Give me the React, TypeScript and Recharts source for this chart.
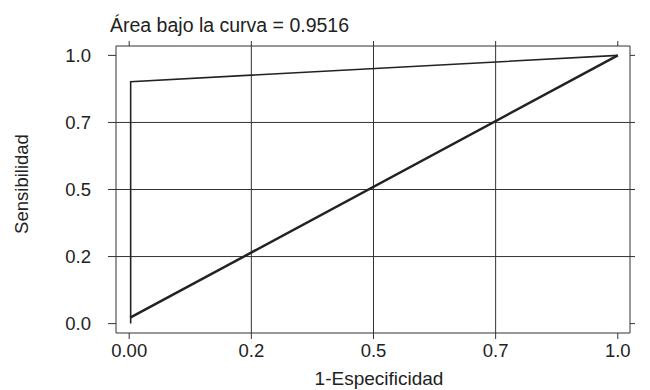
import { LineChart, Line, XAxis, YAxis, ReferenceLine } from "recharts";

// ROC curve points (1 - specificity, sensitivity)
const rocFpr = [0.003, 0.003, 1];
const rocTpr = [0, 0.902, 1];

// reference diagonal
const diagFpr = [0.002, 1];
const diagTpr = [0.022, 1];

const tickValues = [0, 0.25, 0.5, 0.75, 1];
const xTickLabels = ["0.00", "0.2", "0.5", "0.7", "1.0"];
const yTickLabels = ["0.0", "0.2", "0.5", "0.7", "1.0"];
const gridValues = [0.25, 0.5, 0.75];

const title = "Área bajo la curva = 0.9516";
const xTitle = "1-Especificidad";
const yTitle = "Sensibilidad";

const rocData = rocFpr.map((x, i) => ({ x, y: rocTpr[i] }));
const diagData = diagFpr.map((x, i) => ({ x, y: diagTpr[i] }));

const font = "'Liberation Sans', Arial, sans-serif";
const ink = "#222";
const W = 642;
const H = 382;
const xDomain = [-0.027, 1.025];
const yDomain = [-0.035, 1.035];

const fmtX = (v: number) => xTickLabels[tickValues.indexOf(v)] ?? "";
const fmtY = (v: number) => yTickLabels[tickValues.indexOf(v)] ?? "";

export default function App() {
  return (
    <div style={{ position: "relative", width: W, height: H }}>
      <LineChart
        width={W}
        height={H}
        margin={{ top: 28, right: 0, bottom: 0, left: 0 }}
        style={{ fontFamily: font }}
      >
        <XAxis
          dataKey="x"
          type="number"
          domain={xDomain}
          allowDataOverflow
          ticks={tickValues}
          tickFormatter={fmtX}
          height={57}
          tickSize={6}
          tickMargin={5}
          stroke="#333"
          tick={{ fontSize: 18.5, fill: ink, fontFamily: font }}
        />
        <XAxis
          xAxisId="top"
          orientation="top"
          dataKey="x"
          type="number"
          domain={xDomain}
          allowDataOverflow
          ticks={tickValues}
          tickFormatter={() => ""}
          height={10}
          tickSize={5}
          stroke="#333"
        />
        <YAxis
          type="number"
          domain={yDomain}
          allowDataOverflow
          ticks={tickValues}
          tickFormatter={fmtY}
          width={108}
          tickSize={8}
          tickMargin={17}
          stroke="#333"
          tick={{ fontSize: 18.5, fill: ink, fontFamily: font }}
        />
        <YAxis
          yAxisId="right"
          orientation="right"
          type="number"
          domain={yDomain}
          allowDataOverflow
          ticks={tickValues}
          tickFormatter={() => ""}
          width={20}
          tickSize={5}
          stroke="#333"
        />
        {gridValues.map((v) => (
          <ReferenceLine key={"gx" + v} x={v} stroke="#333" strokeWidth={1} />
        ))}
        {gridValues.map((v) => (
          <ReferenceLine key={"gy" + v} y={v} stroke="#333" strokeWidth={1} />
        ))}
        <Line
          data={diagData}
          dataKey="y"
          stroke={ink}
          strokeWidth={2.5}
          dot={false}
          isAnimationActive={false}
        />
        <Line
          data={rocData}
          dataKey="y"
          stroke={ink}
          strokeWidth={1.6}
          dot={false}
          isAnimationActive={false}
        />
      </LineChart>
      <svg
        width={W}
        height={H}
        style={{ position: "absolute", left: 0, top: 0, pointerEvents: "none" }}
      >
        <text x={102} y={24} fontSize={19.5} fill={ink} fontFamily={font}>
          {title}
        </text>
        <text
          x={371}
          y={377}
          fontSize={19}
          fill={ink}
          fontFamily={font}
          textAnchor="middle"
        >
          {xTitle}
        </text>
        <text
          x={20}
          y={176}
          fontSize={18.5}
          fill={ink}
          fontFamily={font}
          textAnchor="middle"
          transform="rotate(-90 20 176)"
        >
          {yTitle}
        </text>
      </svg>
    </div>
  );
}
